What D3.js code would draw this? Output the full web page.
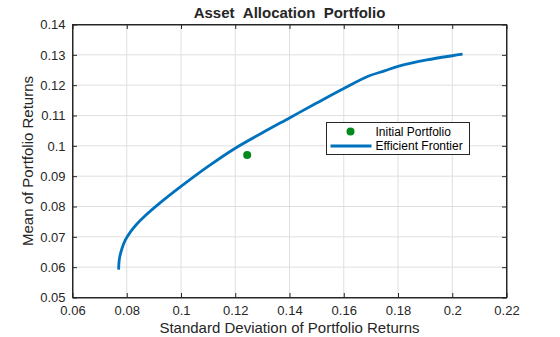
<!DOCTYPE html>
<html><head><meta charset="utf-8">
<script src="https://cdn.jsdelivr.net/npm/d3@7"></script>
<style>body{margin:0;background:#fff}svg{display:block;font-family:"Liberation Sans",Arial,sans-serif}</style>
</head><body><svg id="c" width="560" height="337"></svg>
<script>
const xTicks = [0.06,0.08,0.1,0.12,0.14,0.16,0.18,0.2,0.22];
const xTickLabels = ["0.06","0.08","0.1","0.12","0.14","0.16","0.18","0.2","0.22"];
const yTicks = [0.05,0.06,0.07,0.08,0.09,0.1,0.11,0.12,0.13,0.14];
const yTickLabels = ["0.05","0.06","0.07","0.08","0.09","0.1","0.11","0.12","0.13","0.14"];
const frontierStd  = [0.0770,0.0773,0.0783,0.0795,0.0815,0.0835,0.0865,0.0915,0.1000,0.1100,0.1200,0.1300,0.1400,0.1500,0.1600,0.1692,0.1750,0.1800,0.1906,0.2000,0.2038];
const frontierMean = [0.0592,0.0628,0.0663,0.0690,0.0718,0.0740,0.0767,0.0806,0.0866,0.0932,0.0992,0.1043,0.1092,0.1141,0.1189,0.1230,0.1247,0.1262,0.1283,0.1297,0.1302];
const initialStd = [0.1244];
const initialMean = [0.0970];
const title = "Asset\u00a0\u00a0Allocation\u00a0\u00a0Portfolio";
const xLabel = "Standard Deviation of Portfolio Returns";
const yLabel = "Mean of Portfolio Returns";
const legendLabels = ["Initial Portfolio","Efficient Frontier"];

const svg = d3.select("#c");
const L=72.5,R=506.5,T=24.5,B=297.5;
const x = d3.scaleLinear().domain([0.06,0.22]).range([L,R]);
const y = d3.scaleLinear().domain([0.05,0.14]).range([B,T]);
const ink="#262626";

// grid
const g = svg.append("g");
g.selectAll(".gx").data(xTicks).join("line")
  .attr("x1",d=>x(d)).attr("x2",d=>x(d)).attr("y1",T).attr("y2",B)
  .attr("stroke","#dfdfdf").attr("stroke-width",1);
g.selectAll(".gy").data(yTicks).join("line")
  .attr("y1",d=>y(d)).attr("y2",d=>y(d)).attr("x1",L).attr("x2",R)
  .attr("stroke","#dfdfdf").attr("stroke-width",1);

// axes with inward ticks
const tl=4.5;
const ax = svg.append("g").attr("transform",`translate(0,${B})`)
  .call(d3.axisBottom(x).tickValues(xTicks).tickFormat((d,i)=>xTickLabels[i]).tickSizeInner(-tl).tickSizeOuter(0).tickPadding(8));
const axT = svg.append("g").attr("transform",`translate(0,${T})`)
  .call(d3.axisTop(x).tickValues(xTicks).tickFormat("").tickSizeInner(-tl).tickSizeOuter(0));
const ay = svg.append("g").attr("transform",`translate(${L},0)`)
  .call(d3.axisLeft(y).tickValues(yTicks).tickFormat((d,i)=>yTickLabels[i]).tickSizeInner(-tl).tickSizeOuter(0).tickPadding(7));
const ayR = svg.append("g").attr("transform",`translate(${R},0)`)
  .call(d3.axisRight(y).tickValues(yTicks).tickFormat("").tickSizeInner(-tl).tickSizeOuter(0));
[ax,axT,ay,ayR].forEach(a=>{
  a.selectAll("path").attr("stroke",ink).attr("stroke-width",1);
  a.selectAll("line").attr("stroke",ink);
  a.selectAll("text").attr("fill",ink).style("font-size","13px").style("font-family",'"Liberation Sans",Arial,sans-serif');
});
ax.selectAll("text").attr("dy","0.71em");

// frontier
const pts = frontierStd.map((s,i)=>[s,frontierMean[i]]);
svg.append("path").datum(pts)
  .attr("d",d3.line().x(d=>x(d[0])).y(d=>y(d[1])).curve(d3.curveCatmullRom.alpha(0.5)))
  .attr("fill","none").attr("stroke","#0072BD").attr("stroke-width",2.8);

// initial
svg.selectAll(".ip").data(initialStd).join("circle")
  .attr("cx",d=>x(d)).attr("cy",(d,i)=>y(initialMean[i])).attr("r",4)
  .attr("fill","#008a1c");

// box on top
svg.append("rect").attr("x",L).attr("y",T).attr("width",R-L).attr("height",B-T)
  .attr("fill","none").attr("stroke",ink).attr("stroke-width",1);

// title and labels
svg.append("text").attr("x",(L+R)/2).attr("y",17.5).attr("text-anchor","middle")
  .attr("fill",ink).style("font-size","15px").style("font-weight","bold").text(title);
svg.append("text").attr("x",(L+R)/2).attr("y",333).attr("text-anchor","middle")
  .attr("fill",ink).style("font-size","15px").text(xLabel);
svg.append("text").attr("transform",`translate(33,${(T+B)/2}) rotate(-90)`).attr("text-anchor","middle")
  .attr("fill",ink).style("font-size","15px").text(yLabel);

// legend
const lg = svg.append("g");
lg.append("rect").attr("x",326.5).attr("y",122.5).attr("width",143).attr("height",32)
  .attr("fill","#fff").attr("stroke",ink).attr("stroke-width",1);
lg.append("circle").attr("cx",350.5).attr("cy",131.5).attr("r",4).attr("fill","#008a1c");
lg.append("line").attr("x1",330.5).attr("x2",371.5).attr("y1",146).attr("y2",146)
  .attr("stroke","#0072BD").attr("stroke-width",2.8);
lg.selectAll(".lt").data(legendLabels).join("text")
  .attr("x",375.5).attr("y",(d,i)=>135.5+i*14.5).attr("fill","#000")
  .style("font-size","12px").text(d=>d);
</script></body></html>
